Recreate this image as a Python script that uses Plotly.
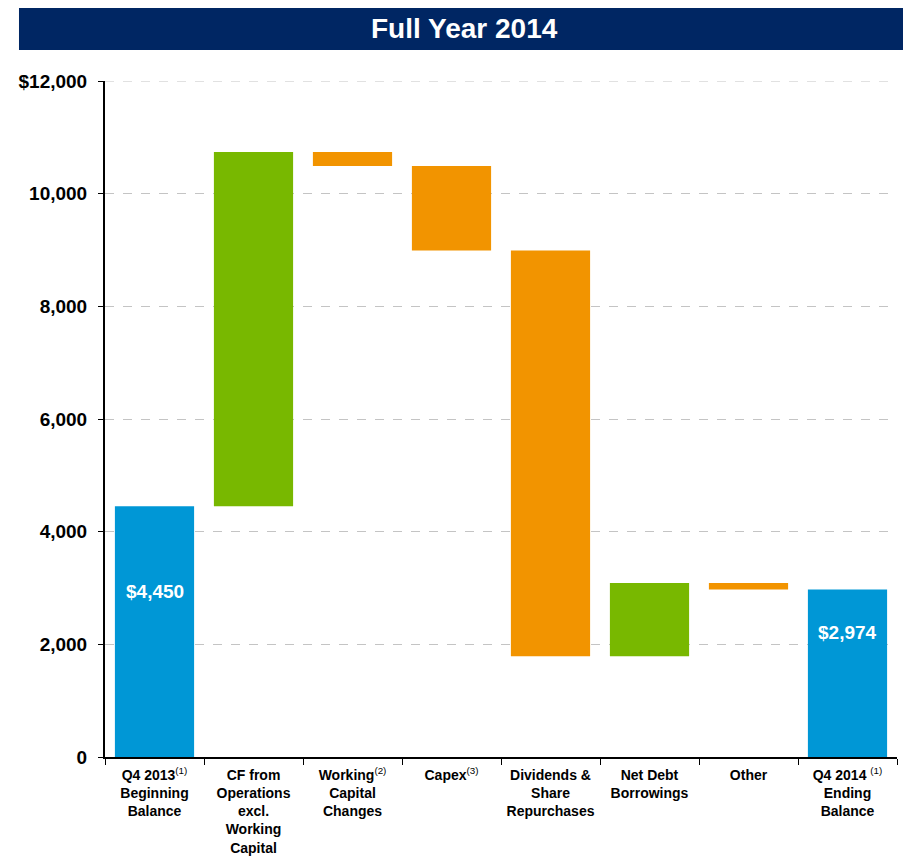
import plotly.graph_objects as go

# Cash walk, full year 2014 ($ millions)
steps = ["begin", "cfo", "wc", "capex", "div", "debt", "other", "end"]
tick_labels = [
    "<b>Q4 2013</b><sup>(1)</sup><br><b>Beginning<br>Balance</b>",
    "<b>CF from<br>Operations<br>excl.<br>Working<br>Capital</b>",
    "<b>Working</b><sup>(2)</sup><br><b>Capital<br>Changes</b>",
    "<b>Capex</b><sup>(3)</sup>",
    "<b>Dividends &<br>Share<br>Repurchases</b>",
    "<b>Net Debt<br>Borrowings</b>",
    "<b>Other</b>",
    "<b>Q4 2014 </b><sup>(1)</sup><br><b>Ending<br>Balance</b>",
]
measures = ["absolute", "relative", "relative", "relative", "relative", "relative", "relative", "total"]
amounts = [4450, 6290, -250, -1500, -7200, 1300, -116, 2974]

y_ticks = [0, 2000, 4000, 6000, 8000, 10000, 12000]
y_tick_text = ["0", "2,000", "4,000", "6,000", "8,000", "10,000", "$12,000"]

BLUE = "#0097D6"
GREEN = "#78B800"
ORANGE = "#F29400"
FONT = "Liberation Sans, Arial, sans-serif"

fig = go.Figure(go.Waterfall(
    x=steps,
    y=amounts,
    measure=measures,
    increasing=dict(marker=dict(color=GREEN)),
    decreasing=dict(marker=dict(color=ORANGE)),
    totals=dict(marker=dict(color=BLUE)),
    connector=dict(visible=False),
    textinfo="none",
    hoverinfo="skip",
))

# value labels inside the two balance bars
for cat, val, shift in [("begin", 4450, -85), ("end", 2974, -43)]:
    fig.add_annotation(x=cat, y=val, yshift=shift, text=f"<b>${val:,}</b>",
                       showarrow=False, yanchor="middle",
                       font=dict(family=FONT, size=19, color="white"))

# top gridline (plotly hides the one on the range edge)
fig.add_shape(type="line", xref="paper", yref="y", x0=0, x1=1, y0=12000, y1=12000,
              line=dict(color="#c4c4c4", width=1, dash="dash"), layer="below")

# title banner
fig.add_shape(type="rect", xref="paper", yref="paper",
              x0=-0.1086, x1=1.0165, y0=1.0459, y1=1.1109,
              fillcolor="#002663", line_width=0, layer="below")
fig.add_annotation(xref="paper", yref="paper", x=0.4545, y=1.0784,
                   text="<b>Full Year 2014</b>", showarrow=False,
                   xanchor="center", yanchor="middle",
                   font=dict(family=FONT, size=28, color="white"))

fig.update_layout(
    width=911, height=859,
    margin=dict(l=97, r=22, t=73, b=110),
    plot_bgcolor="white", paper_bgcolor="white",
    bargap=0.19,
    showlegend=False,
    font=dict(family=FONT, color="black"),
)

fig.update_xaxes(
    tickvals=steps, ticktext=tick_labels,
    tickfont=dict(family=FONT, size=14, color="black"),
    showline=True, linecolor="black", linewidth=2,
    ticks="outside", tickson="boundaries", ticklen=6, tickcolor="black",
    ticklabelstandoff=4,
    showgrid=False, automargin=False,
)
fig.update_yaxes(
    range=[0, 12000], tickvals=y_ticks,
    ticktext=[f"<b>{t}</b>" for t in y_tick_text],
    tickfont=dict(family=FONT, size=19, color="black"),
    showline=True, linecolor="black", linewidth=2,
    ticks="outside", ticklen=5, tickcolor="black",
    ticklabelstandoff=7,
    showgrid=True, gridcolor="#c4c4c4", griddash="dash", gridwidth=1,
    zeroline=False, automargin=False,
)

fig.write_html("out.html")
